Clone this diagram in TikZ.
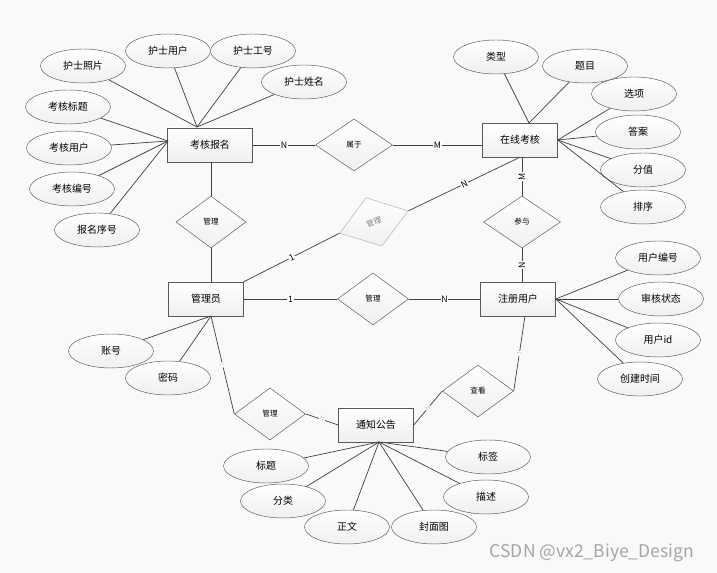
\documentclass[tikz,border=0pt]{standalone}
\usepackage{fontspec}
\setmainfont{Noto Sans CJK SC}
\usetikzlibrary{shapes.geometric}

\begin{document}
\begin{tikzpicture}[x=0.03cm,y=-0.03cm,
  ent/.style={draw=black!65,rectangle,top color=white,bottom color=gray!12,minimum width=2.25cm,minimum height=1.02cm,font=\fontsize{8.5}{10}\selectfont},
  att/.style={draw=black!65,ellipse,top color=white,bottom color=gray!12,minimum width=2.55cm,minimum height=1.02cm,inner sep=0pt,font=\fontsize{8.5}{10}\selectfont},
  rel/.style={draw=black!65,diamond,top color=white,bottom color=gray!12,minimum width=2.13cm,minimum height=1.56cm,inner sep=0pt,font=\fontsize{6.5}{7}\selectfont},
  lnk/.style={draw=black!75,line width=0.6pt},
  card/.style={fill=white,inner sep=0.6pt,font=\fontsize{7.5}{8}\selectfont},
  faint/.style={card,text=gray!45,font=\fontsize{5.5}{6}\selectfont}]
\fill[gray!5] (0,0) rectangle (717,573);
\useasboundingbox (0,0) rectangle (717,573);
\node[ent,minimum width=2.55cm] (kh) at (210,145) {考核报名};
\node[ent] (zx) at (520,140) {在线考核};
\node[ent] (gly) at (206,299) {管理员};
\node[ent] (zc) at (518,299) {注册用户};
\node[ent] (tz) at (376,425) {通知公告};
\node[rel,minimum width=2.31cm] (sy) at (354,145) {属于};
\node[rel,minimum width=2.1cm] (gl1) at (211,222) {管理};
\node[rel,minimum width=2.16cm,minimum height=1.53cm,rotate=18,draw=gray!60,text=gray] (gl2) at (374,222) {管理};
\node[rel,minimum width=2.31cm] (cy) at (522,222) {参与};
\node[rel] (gl3) at (373,299) {管理};
\node[rel] (gl4) at (270,414) {管理};
\node[rel] (ck) at (478,391) {查看};
\node[att] (a1) at (83,66) {护士照片};
\node[att] (a2) at (168,51) {护士用户};
\node[att] (a3) at (253,51) {护士工号};
\node[att] (a4) at (304,82) {护士姓名};
\node[att] (a5) at (68,107) {考核标题};
\node[att] (a6) at (69,148) {考核用户};
\node[att] (a7) at (72,189) {考核编号};
\node[att] (a8) at (97,230) {报名序号};
\node[att] (b1) at (496,57) {类型};
\node[att] (b2) at (585,66) {题目};
\node[att] (b3) at (634,94) {选项};
\node[att] (b4) at (638,132) {答案};
\node[att] (b5) at (643,170) {分值};
\node[att] (b6) at (643,207) {排序};
\node[att] (c1) at (111,351) {账号};
\node[att] (c2) at (168,378) {密码};
\node[att] (d1) at (658,258) {用户编号};
\node[att] (d2) at (661,299) {审核状态};
\node[att] (d3) at (658,340) {用户id};
\node[att] (d4) at (640,379) {创建时间};
\node[att] (e1) at (266,466) {标题};
\node[att] (e2) at (283,501) {分类};
\node[att] (e3) at (347,527) {正文};
\node[att] (e4) at (434,527) {封面图};
\node[att] (e5) at (488,457) {标签};
\node[att] (e6) at (486,497) {描述};
\coordinate (khT) at (197,127);
\coordinate (khL) at (168,141);
\coordinate (zxT) at (529,123);
\coordinate (glyB) at (211,316);
\coordinate (zcB) at (525,316);
\coordinate (tzB) at (379,442);
\draw[lnk] (a1) -- (khT);
\draw[lnk] (a2) -- (khT);
\draw[lnk] (a3) -- (khT);
\draw[lnk] (a4) -- (khT);
\draw[lnk] (a5) -- (khL);
\draw[lnk] (a6) -- (khL);
\draw[lnk] (a7) -- (khL);
\draw[lnk] (a8) -- (khL);
\draw[lnk] (b1) -- (zxT);
\draw[lnk] (b2) -- (zxT);
\draw[lnk] (b3) -- (zx.east);
\draw[lnk] (b4) -- (zx.east);
\draw[lnk] (b5) -- (zx.east);
\draw[lnk] (b6) -- (zx.east);
\draw[lnk] (c1) -- (glyB);
\draw[lnk] (c2) -- (glyB);
\draw[lnk] (d1) -- (zc.east);
\draw[lnk] (d2) -- (zc.east);
\draw[lnk] (d3) -- (zc.east);
\draw[lnk] (d4) -- (zc.east);
\draw[lnk] (e1) -- (tzB);
\draw[lnk] (e2) -- (tzB);
\draw[lnk] (e3) -- (tzB);
\draw[lnk] (e4) -- (tzB);
\draw[lnk] (e5) -- (tzB);
\draw[lnk] (e6) -- (tzB);
\draw[lnk] (kh) -- node[card]{N} (sy);
\draw[lnk] (sy.east) -- node[card]{M} (sy.east -| zx.west);
\draw[lnk] (gl1.north) -- (gl1.north |- kh.south);
\draw[lnk] (gl1.south) -- (gl1.south |- gly.north);
\draw[lnk] (cy.north) -- node[card,rotate=90]{M} (cy.north |- zx.south);
\draw[lnk] (cy.south) -- node[card,rotate=90]{N} (cy.south |- zc.north);
\draw[lnk] (gly) -- node[card]{1} (gl3);
\draw[lnk] (gl3) -- node[card]{N} (zc);
\draw[lnk] (gly.north east) -- node[card,sloped]{1} (gl2.west);
\draw[lnk] (gl2.east) -- node[card,sloped]{N} (zx.south);
\draw[lnk] (glyB) -- node[faint,sloped]{1} (gl4.west);
\draw[lnk] (gl4.east) -- node[faint,sloped]{N} (tz.west);
\draw[lnk] (zcB) -- node[faint,sloped]{1} (ck.east);
\draw[lnk] (ck.west) -- node[faint,sloped]{N} (tz.east);
\node[text=gray!70,font=\fontsize{15}{16}\selectfont] (wm) at (592,553) {CSDN @vx2\_Biye\_Design};
\end{tikzpicture}
\end{document}
